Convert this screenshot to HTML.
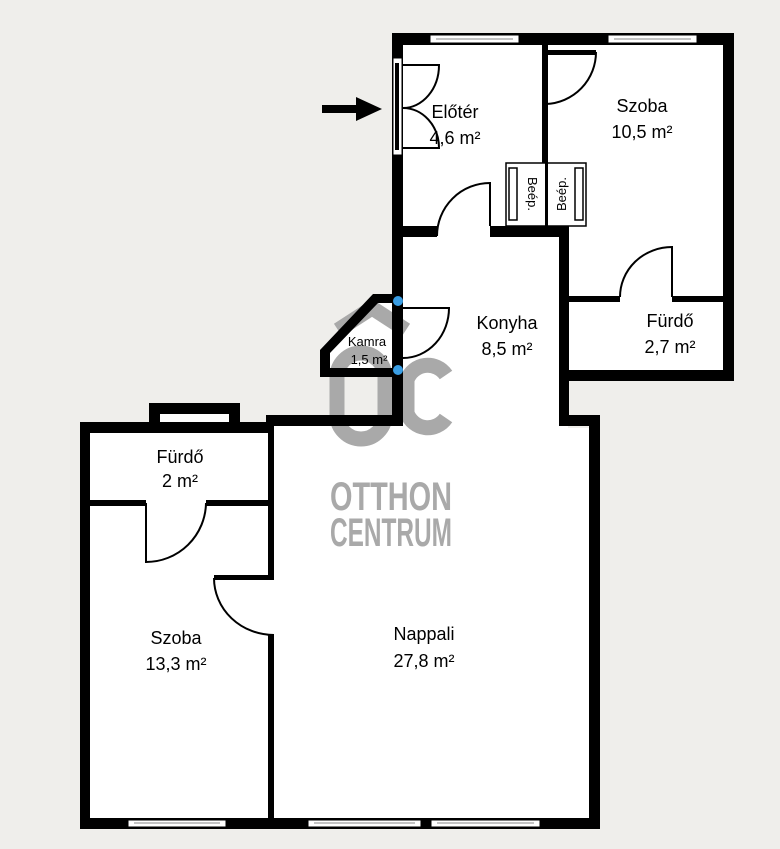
<!DOCTYPE html>
<html><head><meta charset="utf-8"><style>
html,body{margin:0;padding:0;background:#efeeeb;}
svg{display:block;}
text{font-family:"Liberation Sans",sans-serif;fill:#000;}
</style></head><body>
<svg width="780" height="849" viewBox="0 0 780 849" xmlns="http://www.w3.org/2000/svg">
<rect width="780" height="849" fill="#efeeeb"/>
<g fill="#fff">
<rect x="398" y="38" width="330" height="338"/>
<rect x="398" y="230" width="166" height="190"/>
<polygon points="376,298 398,298 398,372 325,372 325,350"/>
<rect x="85" y="428" width="510" height="396"/>
<rect x="155" y="408" width="80" height="25"/>
<rect x="268" y="420" width="300" height="10"/>
</g>
<g fill="none" stroke="#a9a9a9" stroke-width="15">
<polyline points="338,330 372,308 406,330"/>
<rect x="337" y="353" width="48" height="86" rx="24"/>
<path d="M446,375 A22,22 0 0 0 407,380 L407,413 A22,22 0 0 0 446,418"/>
</g>
<text x="330" y="510" font-size="40" font-weight="bold" textLength="122" lengthAdjust="spacingAndGlyphs" style="fill:#a9a9a9">OTTHON</text>
<text x="330" y="546" font-size="40" font-weight="bold" textLength="122" lengthAdjust="spacingAndGlyphs" style="fill:#a9a9a9">CENTRUM</text>
<g fill="#000">
<rect x="392" y="33" width="342" height="12"/>
<rect x="392" y="33" width="11" height="382"/>
<rect x="723" y="33" width="11" height="348"/>
<rect x="559" y="370" width="175" height="11"/>
<rect x="559" y="226" width="10" height="200"/>
<rect x="559" y="415" width="41" height="11"/>
<rect x="589" y="415" width="11" height="414"/>
<rect x="403" y="226" width="34" height="11"/>
<rect x="490" y="226" width="78" height="11"/>
<rect x="542" y="45" width="6" height="120"/>
<rect x="542" y="50" width="54" height="5"/>
<rect x="567" y="296" width="53" height="6"/>
<rect x="672" y="296" width="51" height="6"/>
<rect x="266" y="415" width="137" height="11"/>
<rect x="80" y="422" width="190" height="11"/>
<rect x="149" y="403" width="91" height="11"/>
<rect x="149" y="403" width="11" height="25"/>
<rect x="229" y="403" width="11" height="25"/>
<rect x="80" y="422" width="10" height="407"/>
<rect x="80" y="818" width="520" height="11"/>
<rect x="268" y="422" width="6" height="156"/>
<rect x="268" y="635" width="6" height="190"/>
<rect x="214" y="575" width="60" height="5"/>
<rect x="90" y="500" width="56" height="6"/>
<rect x="206" y="500" width="64" height="6"/>
</g>
<polygon points="373,294 398,294 398,303 378,303 330,353 330,368 398,368 398,377 320,377 320,350" fill="#000"/>
<circle cx="398" cy="301" r="5" fill="#3a9ee4"/>
<circle cx="398" cy="370" r="5" fill="#3a9ee4"/>
<g fill="none" stroke="#000" stroke-width="2">
<path d="M403,308 L449,308 A46,50 0 0 1 403,358"/>
<path d="M596,52 A52,52 0 0 1 546,104"/>
<path d="M437,236 A53,53 0 0 1 490,183 L490,226"/>
<path d="M620,297 A52,50 0 0 1 672,247 L672,297"/>
<path d="M206,503 A60,60 0 0 1 146,562 L146,503"/>
<path d="M214,578 A60,57 0 0 0 274,635"/>
<path d="M403,65 L439,65 A36,43 0 0 1 403,108"/>
<path d="M403,148 L439,148 A36,40 0 0 0 403,108"/>
</g>
<rect x="393" y="58" width="9" height="97" fill="#fff" stroke="#000" stroke-width="1"/>
<rect x="395" y="63" width="4" height="87" fill="#000"/>
<rect x="322" y="105" width="36" height="8" fill="#000"/>
<polygon points="356,97 382,109 356,121" fill="#000"/>
<g fill="#fff" stroke="#000" stroke-width="1">
<rect x="430" y="35" width="89" height="8"/>
<rect x="608" y="35" width="89" height="8"/>
<rect x="128" y="820" width="98" height="7"/>
<rect x="308" y="820" width="113" height="7"/>
<rect x="431" y="820" width="109" height="7"/>
</g>
<g stroke="#888" stroke-width="1">
<line x1="436" y1="39" x2="513" y2="39"/><line x1="614" y1="39" x2="691" y2="39"/>
<line x1="134" y1="823" x2="220" y2="823"/><line x1="314" y1="823" x2="415" y2="823"/><line x1="437" y1="823" x2="534" y2="823"/>
</g>
<g fill="#fff" stroke="#000" stroke-width="1.5">
<rect x="506" y="163" width="40" height="63"/>
<rect x="546" y="163" width="40" height="63"/>
<rect x="509" y="168" width="8" height="52"/>
<rect x="575" y="168" width="8" height="52"/>
</g>
<rect x="545" y="163" width="3" height="63" fill="#000"/>
<text transform="translate(528,194) rotate(90)" font-size="13" text-anchor="middle">Beép.</text>
<text transform="translate(566,194) rotate(-90)" font-size="13" text-anchor="middle">Beép.</text>
<g font-size="18" text-anchor="middle">
<text x="455" y="118">Előtér</text><text x="455" y="144">4,6 m²</text>
<text x="642" y="112">Szoba</text><text x="642" y="138">10,5 m²</text>
<text x="507" y="329">Konyha</text><text x="507" y="355">8,5 m²</text>
<text x="670" y="327">Fürdő</text><text x="670" y="353">2,7 m²</text>
<text x="180" y="463">Fürdő</text><text x="180" y="487">2 m²</text>
<text x="176" y="644">Szoba</text><text x="176" y="670">13,3 m²</text>
<text x="424" y="640">Nappali</text><text x="424" y="667">27,8 m²</text>
</g>
<text x="367" y="346" font-size="13" text-anchor="middle">Kamra</text>
<text x="369" y="364" font-size="13" text-anchor="middle">1,5 m²</text>
</svg>
</body></html>
